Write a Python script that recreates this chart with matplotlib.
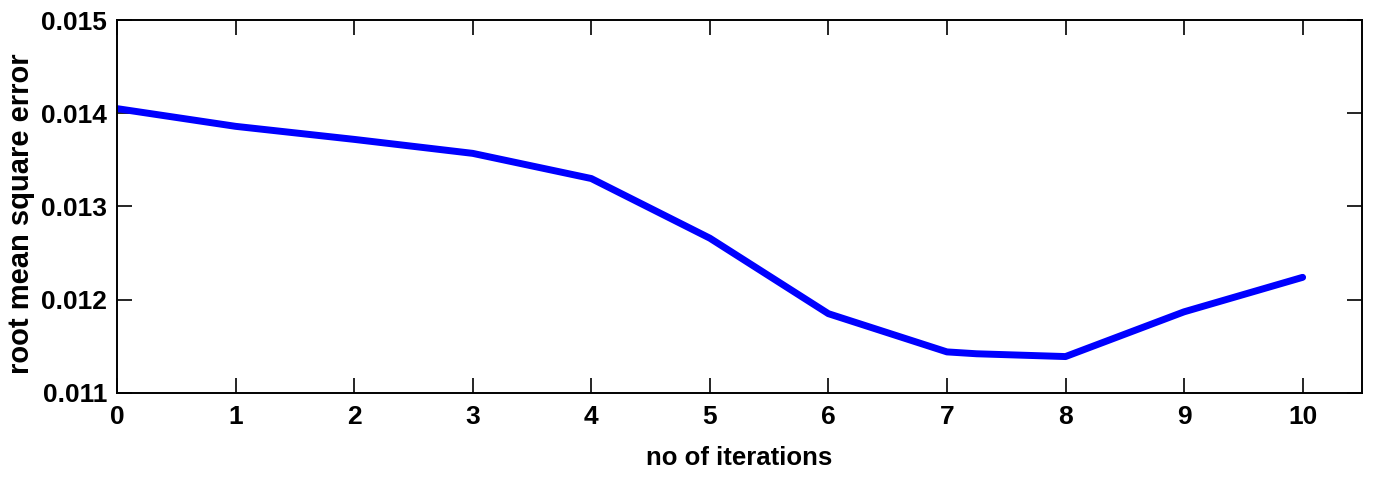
import matplotlib
matplotlib.use('Agg')
import matplotlib.pyplot as plt

# iteration number and rmse
iterations = [0, 1, 2, 3, 4, 5, 6, 7, 7.25, 7.75, 8, 9, 10]
rmse = [0.01405, 0.01386, 0.01372, 0.01357, 0.01330, 0.01266, 0.01185,
        0.01144, 0.01142, 0.01140, 0.01139, 0.01187, 0.01224]

xticks = [0, 1, 2, 3, 4, 5, 6, 7, 8, 9, 10]
yticks = [0.011, 0.012, 0.013, 0.014, 0.015]

font = 'Liberation Sans'

fig = plt.figure(figsize=(13.74, 4.78), dpi=100)
ax = fig.add_axes([0.0852, 0.178, 0.906, 0.780])

ax.plot(iterations, rmse, color='#0000ff', linewidth=5, solid_capstyle='round')

ax.set_xlim(0, 10.5)
ax.set_ylim(0.011, 0.015)
ax.set_xticks(xticks)
ax.set_yticks(yticks)
ax.set_xticklabels([str(t) for t in xticks])
ax.set_yticklabels(['%.3f' % t for t in yticks])

ax.tick_params(direction='in', length=11, width=1.2, top=True, right=True,
               labelsize=19)
ax.tick_params(axis='x', pad=9)
ax.tick_params(axis='y', pad=7)
for lab in ax.get_xticklabels() + ax.get_yticklabels():
    lab.set_family(font)
    lab.set_fontweight('bold')
for sp in ax.spines.values():
    sp.set_linewidth(1.4)

ax.set_xlabel('no of iterations', family=font, fontsize=18.5, fontweight='bold', labelpad=12)
ax.set_ylabel('root mean square error', family=font, fontsize=21,
              fontweight='bold')
ax.yaxis.set_label_coords(-0.066, 0.48)

plt.savefig('out.png', dpi=100, facecolor='white')
